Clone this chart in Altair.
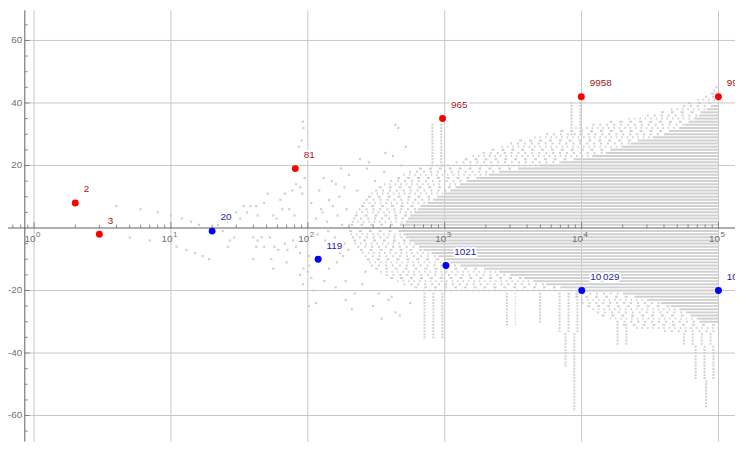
import altair as alt
import pandas as pd

PAD_L = 17
W, H = 718, 436
X_DOMAIN = [0.856, 132100]
Y_DOMAIN = [-68.35, 69.62]
N_MAX = 100000
FONT = "Liberation Sans"

GRID = "#c6c6c6"
DOT = "#d0d0d0"
AXIS = "#5f5f5f"
TICKLBL = "#707070"

# labelled points
red_n = [2, 3, 81, 965, 9958, 99962]
red_v = [8, -2, 19, 35, 42, 42]
red_text = ["2", "3", "81", "965", "9958", "99\u2009962"]
blue_n = [20, 119, 1021, 10029, 100021]
blue_v = [-1, -10, -12, -20, -20]
blue_text = ["20", "119", "1021", "10\u2009029", "100\u2009021"]

# scattered grey points (sparse part of the cloud)
sparse_n = [4, 5, 6, 7, 8, 10, 11, 12, 13, 14, 15, 16, 17, 19, 26, 27, 29, 26, 34, 38,
            42, 48, 30, 36, 32, 43, 51, 68, 77, 88, 86, 106, 56, 59, 65, 73, 80, 40, 43, 46,
            42, 40, 48, 53, 54, 57, 61, 68, 71, 78, 82, 88, 56, 70, 88, 92, 100, 102, 106, 91,
            82, 92, 93, 90, 121, 125, 143, 170, 185, 175, 271, 369, 436, 458, 361, 102, 93, 115,
            102, 132, 143, 189, 189, 264, 330, 389, 436, 347, 22, 24, 63, 95, 110, 150, 210, 240,
            130, 160, 200, 230, 280, 310, 420, 480, 520, 160, 220, 250, 300, 410, 470, 560,
            115, 128, 138, 152, 165, 178, 192, 118, 134, 147, 158, 172, 186, 198, 124, 141, 163, 181]
sparse_v = [7, -3, 6, -4, 5, 4, -6, 3, -7, 2, -8, 1, -9, -10, -6, -4, -3, 2, 7, 7,
            7, 8, 5, 5, 3, 4, 11, 11, 12, 13, 26, 8, 4, 3, 6, 6, 4, -3, -4, -3,
            -6, -10, -6, -3, -10, -6, -7, -5, -7, -4, -6, -8, -13, -11, -15, -18, -14, -12, -16, 11,
            14, 34, 32, 28, 12, 6, 9, 10, 13, 19, 19, 24, 33, 32, 18, -9, -13, -24,
            -25, -17, -13, -17, -23, -14, -21, -23, -27, -29, 1, -1, 9, 16, -20, 15, -26, 22,
            16, 14, 17, 12, 21, 15, 23, 20, 26, -19, -21, -18, -25, -22, -28, -24,
            3, 5, 2, 7, 4, 1, 6, -2, -4, -6, -3, -8, -5, -7, -10, -1, -11, -9]

# dense part of the cloud: one stripe per integer level
up_y = list(range(1, 46))
up_solid_from = [500, 520, 540, 560, 600, 640, 680, 750, 820, 900,
                 1000, 1100, 1200, 1300, 1500, 1800, 2100, 2500, 3500, 5000,
                 7000, 9000, 12000, 15000, 17000, 20000, 23000, 27000, 33000, 40000,
                 45000, 52000, 57000, 62000, 67000, 72000, 77000, 82000, 88000, 0,
                 0, 0, 0, 0, 0]
up_dashed_from = [205, 210, 215, 220, 225, 235, 245, 255, 265, 275,
                  290, 310, 330, 360, 400, 450, 500, 550, 650, 800,
                  1200, 1400, 1600, 1900, 2200, 2600, 3000, 3500, 4500, 5500,
                  7000, 9000, 12000, 16000, 22000, 30000, 38000, 45000, 55000, 60000,
                  70000, 80000, 88000, 92000, 95000]
lo_y = list(range(-1, -34, -1))
lo_solid_from = [480, 500, 520, 550, 600, 650, 700, 800, 900, 1000,
                 1100, 1300, 2000, 2500, 3000, 3800, 4500, 5500, 7000, 9000,
                 20000, 25000, 30000, 38000, 45000, 52000, 58000, 64000, 70000, 75000,
                 0, 0, 0]
lo_dashed_from = [200, 205, 210, 215, 220, 230, 240, 250, 260, 270,
                  280, 290, 310, 340, 370, 400, 450, 500, 600, 700,
                  8000, 9000, 10000, 10000, 11000, 12000, 13000, 14000, 16000, 18000,
                  20000, 25000, 40000]

# sparse clusters (columns) of the cloud
cl_x0 = [800, 8300, 700, 6800, 7500, 8700, 2800, 4900, 18000, 55000, 67000, 80000]
cl_x1 = [1000, 10000, 1050, 10000, 9800, 9300, 3300, 5600, 23000, 100000, 97000, 93000]
cl_top = [33, 40, -21, -21, -34, -45, -21, -21, -31, -34, -38, -49]
cl_bottom = [20, 30, -35, -33, -44, -58, -31, -30, -37, -37, -48, -57]

x_major = [1, 10, 100, 1000, 10000, 100000]
x_exp = ["0", "1", "2", "3", "4", "5"]
x_minor = [0.7, 0.8, 0.9] + [m * 10 ** k for k in range(5) for m in range(2, 10)]
y_major = [-60, -40, -20, 20, 40, 60]
y_major_text = ["-60", "-40", "-20", "20", "40", "60"]
y_minor = [-65, -55, -50, -45, -35, -30, -25, -15, -10, -5,
           5, 10, 15, 25, 30, 35, 45, 50, 55, 65]

# ---- tables ----
rows = []
for y, s, d in zip(up_y + lo_y, up_solid_from + lo_solid_from, up_dashed_from + lo_dashed_from):
    end = s if s else N_MAX
    if d and d < end:
        rows.append(dict(y=y, x0=d, x1=end, kind="sparse"))
    if s:
        rows.append(dict(y=y, x0=s, x1=N_MAX, kind="dense"))
for x0, x1, top, bot in zip(cl_x0, cl_x1, cl_top, cl_bottom):
    for y in range(bot, top + 1):
        rows.append(dict(y=y, x0=x0, x1=x1, kind="col"))
seg = pd.DataFrame(rows)
seg["grp"] = seg["y"].abs() % 3
dense = seg[seg.kind == "dense"]
col_seg = seg[seg.kind == "col"]
sparse_groups = [seg[(seg.kind == "sparse") & (seg.grp == g)] for g in range(3)]
dash_patterns = [[2, 5], [3, 7], [1.5, 4]]

pts = pd.DataFrame({"x": sparse_n, "y": sparse_v})
red = pd.DataFrame({"x": red_n, "y": red_v, "t": red_text})
blue = pd.DataFrame({"x": blue_n, "y": blue_v, "t": blue_text})
gx = pd.DataFrame({"x": x_major, "e": x_exp})
gxm = pd.DataFrame({"x": x_minor})
gy = pd.DataFrame({"y": y_major, "t": y_major_text})
gym = pd.DataFrame({"y": y_minor})
one = pd.DataFrame({"a": [0]})

xs = alt.Scale(type="log", domain=X_DOMAIN, nice=False)
ys = alt.Scale(domain=Y_DOMAIN, nice=False, zero=False)


def X(f):
    return alt.X(f, type="quantitative", scale=xs, axis=None)


def Y(f):
    return alt.Y(f, type="quantitative", scale=ys, axis=None)


Y0 = alt.YDatum(0, scale=ys, axis=None)

grid_v = alt.Chart(gx).mark_rule(color=GRID, strokeWidth=1).encode(
    x=X("x"), y=alt.value(0), y2=alt.value(H))
grid_h = alt.Chart(gy).mark_rule(color=GRID, strokeWidth=1).encode(
    y=Y("y"), x=alt.value(0), x2=alt.value(W))

dense_l = alt.Chart(dense).mark_rule(color=DOT, strokeWidth=2).encode(
    x=X("x0"), x2="x1:Q", y=Y("y"))
sparse_ls = [
    alt.Chart(df).mark_rule(color=DOT, strokeWidth=2, strokeDash=pat).encode(
        x=X("x0"), x2="x1:Q", y=Y("y"))
    for df, pat in zip(sparse_groups, dash_patterns)
]
col_l = alt.Chart(col_seg).mark_rule(color=DOT, strokeWidth=2, strokeDash=[2, 7]).encode(
    x=X("x0"), x2="x1:Q", y=Y("y"))
pts_l = alt.Chart(pts).mark_square(color=DOT, size=5, opacity=1).encode(x=X("x"), y=Y("y"))

x_axis = alt.Chart(one).mark_rule(color=AXIS, strokeWidth=1).encode(
    x=alt.value(-PAD_L), x2=alt.value(W), y=Y0)
y_axis = alt.Chart(one).mark_rule(color=AXIS, strokeWidth=1).encode(
    x=alt.value(0), y=alt.value(0), y2=alt.value(H))

xt_major = alt.Chart(gx).mark_tick(orient="vertical", size=6, thickness=1, color=AXIS, yOffset=-3).encode(
    x=X("x"), y=Y0)
xt_minor = alt.Chart(gxm).mark_tick(orient="vertical", size=3.5, thickness=1, color=AXIS, yOffset=-1.75).encode(
    x=X("x"), y=Y0)
yt_major = alt.Chart(gy).mark_tick(orient="horizontal", size=5, thickness=1, color=AXIS, xOffset=2.5).encode(
    y=Y("y"), x=alt.value(0))
yt_minor = alt.Chart(gym).mark_tick(orient="horizontal", size=3, thickness=1, color=AXIS, xOffset=1.5).encode(
    y=Y("y"), x=alt.value(0))

x_lbl = alt.Chart(gx).mark_text(text="10", align="right", baseline="alphabetic", dx=1.5, dy=13.7,
                                fontSize=10, font=FONT, color=TICKLBL).encode(x=X("x"), y=Y0)
x_sup = alt.Chart(gx).mark_text(align="left", baseline="alphabetic", dx=2, dy=8.7,
                                fontSize=8, font=FONT, color=TICKLBL).encode(x=X("x"), y=Y0, text="e:N")
y_lbl = alt.Chart(gy).mark_text(align="right", baseline="middle", fontSize=10, font=FONT,
                                color=TICKLBL).encode(y=Y("y"), x=alt.value(-2.5), text="t:N")


def labelled(df, fill, txt):
    p = alt.Chart(df).mark_circle(color=fill, size=49, opacity=1).encode(x=X("x"), y=Y("y"))
    halo = alt.Chart(df).mark_text(align="left", baseline="alphabetic", dx=8.5, dy=-10.8, fontSize=10,
                                   font=FONT, color="white", stroke="white", strokeWidth=4,
                                   strokeJoin="round").encode(x=X("x"), y=Y("y"), text="t:N")
    t = alt.Chart(df).mark_text(align="left", baseline="alphabetic", dx=8.5, dy=-10.8, fontSize=10,
                                font=FONT, color=txt).encode(x=X("x"), y=Y("y"), text="t:N")
    return [p, halo, t]


layers = [grid_v, grid_h, dense_l] + sparse_ls + [col_l, pts_l, x_axis, y_axis, xt_major, xt_minor,
                                                  yt_major, yt_minor, x_lbl, x_sup, y_lbl]
layers += labelled(red, "#ff0000", "#a51515")
layers += labelled(blue, "#0000ff", "#1c1ca0")

chart = alt.layer(*layers).properties(
    width=W, height=H, autosize="none",
    padding={"left": PAD_L, "top": 0, "right": 0, "bottom": 0},
    background="white",
).configure_view(stroke=None)

chart.save("out.html", embed_options={"renderer": "svg", "actions": False})
